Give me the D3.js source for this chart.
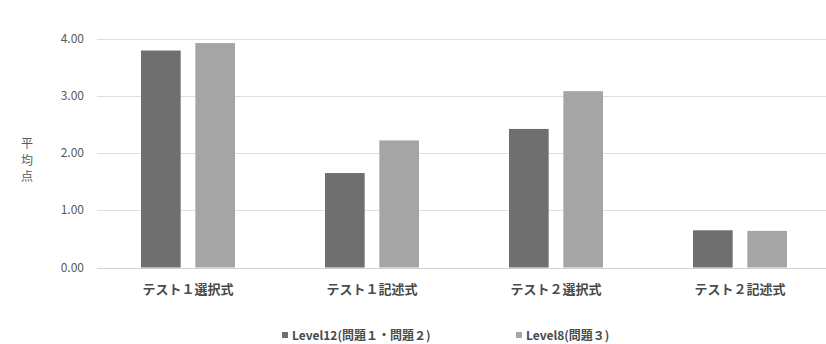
<!DOCTYPE html>
<html>
  <meta charset="utf-8" />
  <head>
    <script src="https://d3js.org/d3.v7.min.js"></script>
    <style>
      body {
        margin: 0;
        background: #fff;
      }
      text {
        font-family: "Noto Sans CJK JP", "Noto Sans", sans-serif;
      }
    </style>
  </head>
  <body>
    <svg id="chart" width="826" height="344"></svg>
    <script>
      const categories = ["テスト１選択式", "テスト１記述式", "テスト２選択式", "テスト２記述式"];
      const seriesNames = ["Level12(問題１・問題２)", "Level8(問題３)"];
      const level12 = [3.79, 1.65, 2.42, 0.65];
      const level8 = [3.92, 2.22, 3.08, 0.64];
      const yTicks = [0, 1, 2, 3, 4];
      const colors = ["#6f6f6f", "#a5a5a5"];

      const svg = d3.select("#chart");

      const x = d3.scaleBand().domain(categories).range([96, 832]);
      const x1 = d3
        .scaleBand()
        .domain([0, 1])
        .range([x.bandwidth() / 2 - 47, x.bandwidth() / 2 + 47])
        .paddingInner(0.27);
      const y = d3.scaleLinear().domain([0, 4]).range([267.5, 38.5]);

      // gridlines
      svg
        .append("g")
        .selectAll("line")
        .data(yTicks)
        .enter()
        .append("line")
        .attr("x1", 97)
        .attr("x2", 832)
        .attr("y1", (d) => Math.round(y(d)) + 0.5)
        .attr("y2", (d) => Math.round(y(d)) + 0.5)
        .attr("stroke", (d) => (d === 0 ? "#d0d0d0" : "#dedede"))
        .attr("stroke-width", 1.2);

      // y tick labels
      svg
        .append("g")
        .selectAll("text")
        .data(yTicks)
        .enter()
        .append("text")
        .attr("x", 84)
        .attr("y", (d) => y(d) + 4)
        .attr("text-anchor", "end")
        .attr("font-size", 12)
        .attr("fill", "#595959")
        .text((d) => d3.format(".2f")(d));

      // bars
      const rows = categories.map((c, i) => ({ cat: c, vals: [level12[i], level8[i]] }));
      const groups = svg
        .append("g")
        .selectAll("g")
        .data(rows)
        .enter()
        .append("g")
        .attr("transform", (d) => `translate(${x(d.cat)},0)`);

      groups
        .selectAll("rect")
        .data((d) => d.vals.map((v, k) => ({ v, k })))
        .enter()
        .append("rect")
        .attr("x", (d) => x1(d.k))
        .attr("width", x1.bandwidth())
        .attr("y", (d) => y(d.v))
        .attr("height", (d) => y(0) - y(d.v))
        .attr("fill", (d) => colors[d.k]);

      // category labels
      svg
        .append("g")
        .selectAll("text")
        .data(categories)
        .enter()
        .append("text")
        .attr("x", (d) => x(d) + x.bandwidth() / 2)
        .attr("y", 294)
        .attr("text-anchor", "middle")
        .attr("font-size", 13)
        .attr("font-weight", "bold")
        .attr("fill", "#4a4a4a")
        .text((d) => d);

      // y axis title, stacked vertically
      svg
        .append("g")
        .selectAll("text")
        .data(["平", "均", "点"])
        .enter()
        .append("text")
        .attr("x", 27)
        .attr("y", (d, i) => 148 + i * 16.5)
        .attr("text-anchor", "middle")
        .attr("font-size", 12)
        .attr("fill", "#595959")
        .text((d) => d);

      // legend
      const legendX = [282, 516];
      const legend = svg
        .append("g")
        .selectAll("g")
        .data(seriesNames)
        .enter()
        .append("g")
        .attr("transform", (d, i) => `translate(${legendX[i]},332)`);

      legend
        .append("rect")
        .attr("width", 6)
        .attr("height", 6)
        .attr("fill", (d, i) => colors[i]);

      legend
        .append("text")
        .attr("x", 10)
        .attr("y", 7.5)
        .attr("font-size", 12)
        .attr("font-weight", "bold")
        .attr("fill", "#4a4a4a")
        .text((d) => d);
    </script>
  </body>
</html>
